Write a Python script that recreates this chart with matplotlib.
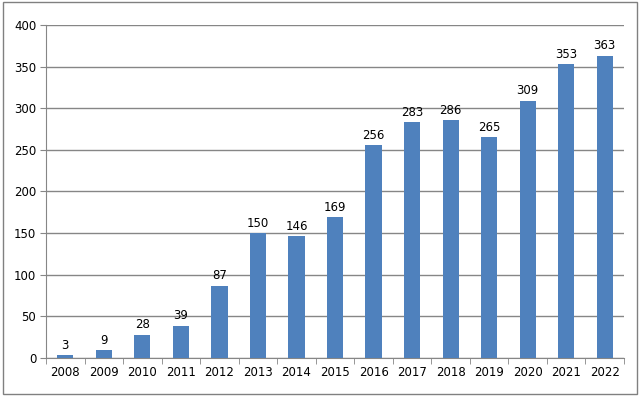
import matplotlib
matplotlib.use("Agg")
import matplotlib.pyplot as plt
import numpy as np
from matplotlib.patches import Rectangle

# Yearly counts
years = ['2008', '2009', '2010', '2011', '2012', '2013', '2014', '2015',
         '2016', '2017', '2018', '2019', '2020', '2021', '2022']
counts = [3, 9, 28, 39, 87, 150, 146, 169, 256, 283, 286, 265, 309, 353, 363]

plt.rcParams['font.family'] = ['DejaVu Sans']

fig = plt.figure(figsize=(6.4, 3.96), dpi=100)
ax = fig.add_axes([0.072, 0.096, 0.903, 0.841])

# Outer frame of the chart area
fig.patches.append(Rectangle((0.004, 0.005), 0.992, 0.99, transform=fig.transFigure,
                             fill=False, edgecolor='#808080', linewidth=1.0))

x = np.arange(len(years))
bars = ax.bar(x, counts, width=0.42, color='#4F81BD', zorder=3)

for xi, v in zip(x, counts):
    ax.text(xi, v + 4, str(v), ha='center', va='bottom', fontsize=8.5, color='black')

ax.set_xlim(-0.5, len(years) - 0.5)
ax.set_ylim(0, 400)
ax.set_yticks(np.arange(0, 401, 50))
ax.yaxis.grid(True, color='#868686', linewidth=1.0, zorder=0)

ax.set_xticks(x)
ax.set_xticklabels(years)
ax.set_xticks(np.arange(-0.5, len(years), 1), minor=True)
ax.tick_params(axis='x', which='major', length=0, pad=6, labelsize=8.5)
ax.tick_params(axis='x', which='minor', length=4, color='#868686')
ax.tick_params(axis='y', length=4, color='#868686', labelsize=8.5, pad=3)

for side in ['top', 'right']:
    ax.spines[side].set_visible(False)
for side in ['left', 'bottom']:
    ax.spines[side].set_color('#868686')

fig.savefig('out.png', dpi=100)
